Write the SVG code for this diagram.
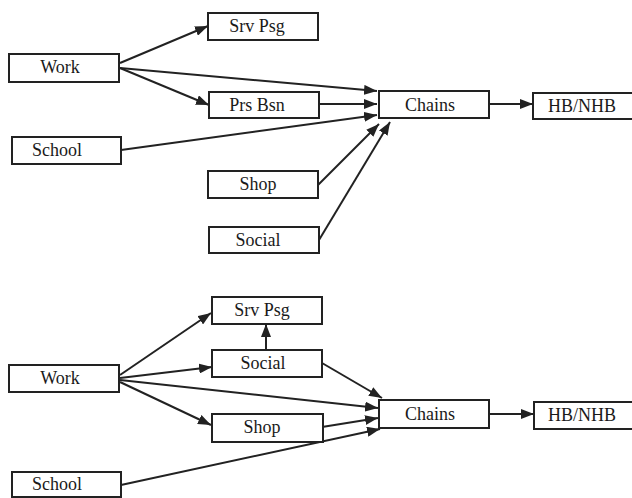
<svg xmlns="http://www.w3.org/2000/svg" width="632" height="498" viewBox="0 0 632 498">
<style>
.box{fill:#fff;stroke:#222;stroke-width:2}
.lbl{font-family:"Liberation Serif","Times New Roman",serif;font-size:18px;fill:#1a1a1a;text-anchor:middle}
.edge{stroke:#222;stroke-width:2;fill:none;marker-end:url(#ah)}
</style>
<defs>
<marker id="ah" markerUnits="userSpaceOnUse" markerWidth="14" markerHeight="10" refX="13" refY="5" orient="auto">
<path d="M0,0 L13,5 L0,10 Z" fill="#222"/>
</marker>
</defs>
<rect width="632" height="498" fill="#fff"/>
<g id="connectors">
<line class="edge" x1="120" y1="63" x2="208" y2="26"/>
<line class="edge" x1="120" y1="68" x2="209" y2="105"/>
<line class="edge" x1="120" y1="68" x2="377" y2="91"/>
<line class="edge" x1="319" y1="104" x2="377" y2="104"/>
<line class="edge" x1="121" y1="150" x2="377" y2="115"/>
<line class="edge" x1="318" y1="185" x2="379" y2="124"/>
<line class="edge" x1="319" y1="240" x2="390" y2="122"/>
<line class="edge" x1="489" y1="104" x2="533" y2="104"/>
<line class="edge" x1="120" y1="375" x2="211" y2="313"/>
<line class="edge" x1="120" y1="378" x2="212" y2="367"/>
<line class="edge" x1="120" y1="380" x2="378" y2="408"/>
<line class="edge" x1="120" y1="382" x2="211" y2="425"/>
<line class="edge" x1="266" y1="350" x2="266" y2="324"/>
<line class="edge" x1="322" y1="363" x2="382" y2="398"/>
<line class="edge" x1="322" y1="427" x2="378" y2="418"/>
<line class="edge" x1="121" y1="485" x2="380" y2="429"/>
<line class="edge" x1="489" y1="414" x2="534" y2="414"/>
</g>
<g id="t-srvpsg"><rect class="box" x="208" y="13" width="110" height="27"/><text class="lbl" x="257" y="32">Srv Psg</text></g>
<g id="t-work"><rect class="box" x="9" y="54" width="110" height="28"/><text class="lbl" x="60" y="73">Work</text></g>
<g id="t-prsbsn"><rect class="box" x="209" y="92" width="110" height="26"/><text class="lbl" x="257" y="111">Prs Bsn</text></g>
<g id="t-school"><rect class="box" x="12" y="137" width="109" height="27"/><text class="lbl" x="57" y="156">School</text></g>
<g id="t-shop"><rect class="box" x="208" y="171" width="110" height="27"/><text class="lbl" x="258" y="190">Shop</text></g>
<g id="t-social"><rect class="box" x="209" y="227" width="110" height="26"/><text class="lbl" x="258" y="246">Social</text></g>
<g id="t-chains"><rect class="box" x="379" y="91" width="110" height="27"/><text class="lbl" x="430" y="111">Chains</text></g>
<g id="t-hbnhb"><rect class="box" x="533" y="93" width="100" height="26"/><text class="lbl" x="582" y="112">HB/NHB</text></g>
<g id="b-srvpsg"><rect class="box" x="212" y="297" width="110" height="27"/><text class="lbl" x="262" y="316">Srv Psg</text></g>
<g id="b-social"><rect class="box" x="212" y="350" width="110" height="27"/><text class="lbl" x="263" y="369">Social</text></g>
<g id="b-work"><rect class="box" x="9" y="365" width="110" height="27"/><text class="lbl" x="60" y="384">Work</text></g>
<g id="b-shop"><rect class="box" x="212" y="414" width="111" height="28"/><text class="lbl" x="262" y="433">Shop</text></g>
<g id="b-school"><rect class="box" x="12" y="472" width="109" height="25"/><text class="lbl" x="57" y="490">School</text></g>
<g id="b-chains"><rect class="box" x="379" y="400" width="110" height="28"/><text class="lbl" x="430" y="420">Chains</text></g>
<g id="b-hbnhb"><rect class="box" x="534" y="402" width="100" height="27"/><text class="lbl" x="582" y="421">HB/NHB</text></g>
</svg>
